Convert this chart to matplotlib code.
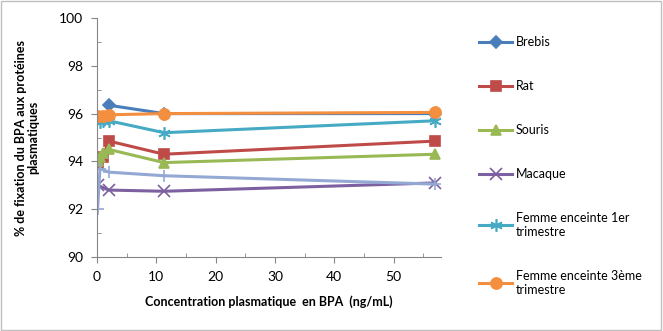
import matplotlib
matplotlib.use("Agg")
import matplotlib.pyplot as plt
from matplotlib.ticker import MultipleLocator

plt.rcParams["font.family"] = ["Lato", "DejaVu Sans"]

# concentrations (ng/mL) and % binding
brebis_x = [2, 11.3, 57]
brebis_y = [96.35, 96.0, 96.0]
rat_x = [0.1, 1, 2, 11.3, 57]
rat_y = [93.95, 94.2, 94.85, 94.3, 94.85]
souris_x = [0.1, 0.5, 1, 2, 11.3, 57]
souris_y = [94.0, 94.2, 94.35, 94.5, 93.95, 94.3]
macaque_x = [0.1, 2, 11.3, 57]
macaque_y = [93.0, 92.8, 92.75, 93.1]
femme1_x = [0.5, 1, 2, 11.3, 57]
femme1_y = [95.65, 95.7, 95.7, 95.2, 95.7]
femme3_x = [0.1, 1, 2, 11.3, 57]
femme3_y = [95.9, 95.9, 95.95, 96.0, 96.05]
homme_x = [0.1, 0.5, 2, 11.3, 57]
homme_y = [92.0, 93.7, 93.55, 93.4, 93.05]

series = [
    ("Brebis", brebis_x, brebis_y, "#4A7EBB", "D", 6),
    ("Rat", rat_x, rat_y, "#BE4B48", "s", 7),
    ("Souris", souris_x, souris_y, "#98B954", "^", 7),
    ("Macaque", macaque_x, macaque_y, "#7D60A0", "x", 8),
    ("Femme enceinte 1er\ntrimestre", femme1_x, femme1_y, "#46AAC5", (6, 2, 0), 9),
    ("Femme enceinte 3ème\ntrimestre", femme3_x, femme3_y, "#F38F3F", "o", 8),
    ("_homme", homme_x, homme_y, "#93A9D4", "+", 9),
]

fig = plt.figure(figsize=(6.63, 3.31), dpi=100)
ax = fig.add_axes([97 / 663, 1 - 257 / 331, (441 - 97) / 663, (257 - 18) / 331])

handles = []
for label, xs, ys, color, marker, ms in series:
    ln, = ax.plot(xs, ys, color=color, lw=2.2, marker=marker, ms=ms,
                  mec=color, mfc=color, mew=1.2, label=label)
    if not label.startswith("_"):
        handles.append(ln)

ax.set_xlim(0, 58)
ax.set_ylim(90, 100)
ax.xaxis.set_major_locator(MultipleLocator(10))
ax.xaxis.set_minor_locator(MultipleLocator(5))
ax.yaxis.set_major_locator(MultipleLocator(2))
ax.yaxis.set_minor_locator(MultipleLocator(1))
ax.tick_params(which="major", direction="out", length=4, color="#868686", labelsize=10, pad=6)
ax.tick_params(which="minor", direction="in", length=3, color="#868686")
for side in ("top", "right"):
    ax.spines[side].set_visible(False)
for side in ("left", "bottom"):
    ax.spines[side].set_color("#868686")

ax.set_xlabel("Concentration plasmatique  en BPA  (ng/mL)", fontsize=9, fontweight="bold", labelpad=9)
ax.set_ylabel("% de fixation du BPA aux protéines\nplasmatiques", fontsize=9, fontweight="bold",
              labelpad=14, linespacing=1.1)

fig.legend(handles=handles, loc="upper left", bbox_to_anchor=(468 / 663, 1 - 25 / 331),
           frameon=False, fontsize=9, labelspacing=2.55, handlelength=2.6, handletextpad=0.3)

fig.patches.append(plt.Rectangle((0.002, 0.003), 0.995, 0.994, transform=fig.transFigure,
                                 fill=False, edgecolor="#BFBFBF", lw=1))

fig.savefig("out.png", dpi=100)
plt.close(fig)
